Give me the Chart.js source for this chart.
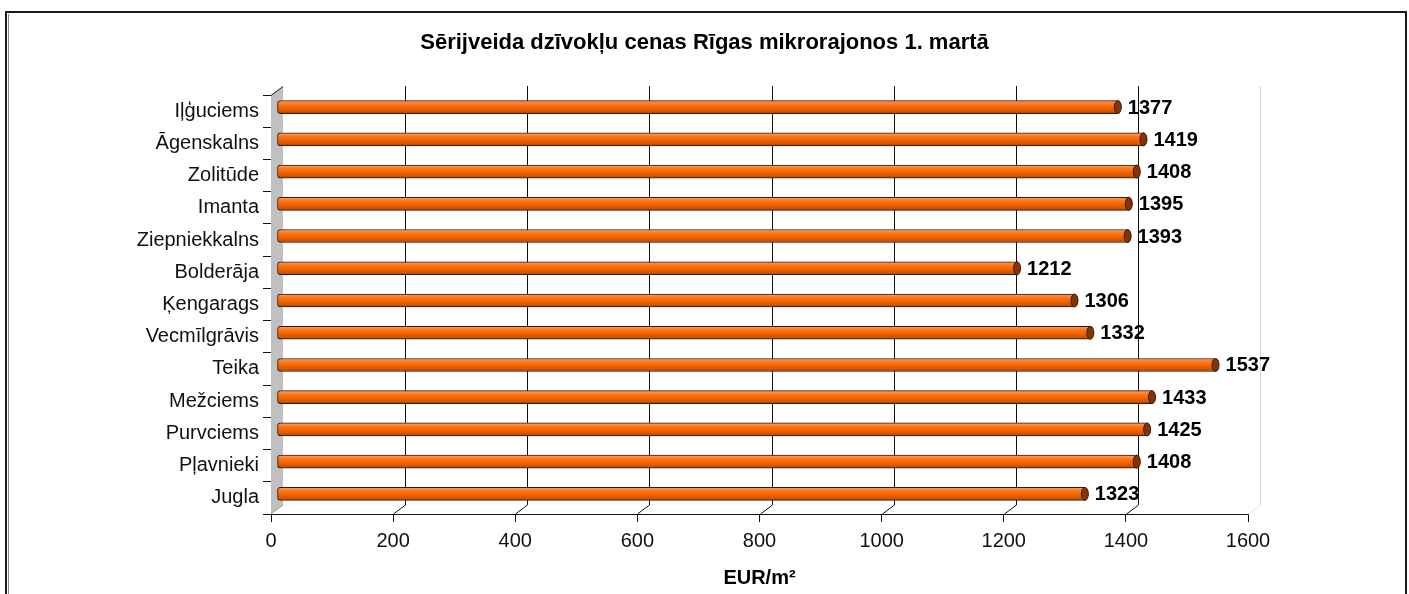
<!DOCTYPE html>
<html>
<head>
<meta charset="utf-8">
<script src="https://cdn.jsdelivr.net/npm/chart.js@4"></script>
<style>
  body { margin: 0; background: #fff; }
  #wrap { width: 1409px; height: 594px; }
</style>
</head>
<body>
<div id="wrap"><canvas id="price_chart" width="1409" height="594"></canvas></div>
<script>
// mikrorajoni (no augšas uz leju)
const districts = ['Iļģuciems', 'Āgenskalns', 'Zolitūde', 'Imanta', 'Ziepniekkalns', 'Bolderāja',
                   'Ķengarags', 'Vecmīlgrāvis', 'Teika', 'Mežciems', 'Purvciems', 'Pļavnieki', 'Jugla'];
// cena EUR/m2
const prices = [1377, 1419, 1408, 1395, 1393, 1212, 1306, 1332, 1537, 1433, 1425, 1408, 1323];
// x ass
const xMin = 0;
const xMax = 1600;
const xStep = 200;

const FONT = "'Liberation Sans', Arial, sans-serif";
const DEPTH_X = 12, DEPTH_Y = -9;   // aizmugurējā plakne
const BAR_DX = 6, BAR_DY = -4;      // stabiņu nobīde (3D)

// rāmis ap visu diagrammu
const framePlugin = {
  id: 'frame',
  beforeDraw(chart) {
    const ctx = chart.ctx;
    ctx.save();
    ctx.fillStyle = '#fff';
    ctx.fillRect(0, 0, chart.width, chart.height);
    ctx.strokeStyle = '#1a1a1a';
    ctx.lineWidth = 2;
    ctx.strokeRect(6, 12, 1400, 600);
    ctx.strokeStyle = '#888';
    ctx.lineWidth = 1;
    ctx.beginPath();
    ctx.moveTo(8.5, 14); ctx.lineTo(8.5, 594);
    ctx.stroke();
    ctx.restore();
  }
};

// 3D siena, režģis un stabiņu nobīde
const depthPlugin = {
  id: 'depth',
  beforeDatasetsDraw(chart) {
    const ctx = chart.ctx;
    const a = chart.chartArea;
    const xs = chart.scales.x;
    ctx.save();
    // pelēkā kreisā siena
    ctx.fillStyle = '#c0c0c0';
    ctx.beginPath();
    ctx.moveTo(a.left, a.top);
    ctx.lineTo(a.left + DEPTH_X, a.top + DEPTH_Y);
    ctx.lineTo(a.left + DEPTH_X, a.bottom + DEPTH_Y);
    ctx.lineTo(a.left, a.bottom);
    ctx.closePath();
    ctx.fill();
    ctx.strokeStyle = '#222';
    ctx.lineWidth = 1;
    ctx.beginPath();
    ctx.moveTo(a.left, a.top + 0.5);
    ctx.lineTo(a.left + DEPTH_X, a.top + DEPTH_Y + 0.5);
    ctx.stroke();
    // režģa līnijas aizmugurē + diagonāles uz grīdas
    for (let v = xMin + xStep; v <= xMax; v += xStep) {
      const xf = Math.round(xs.getPixelForValue(v)) + 0.5;
      const xb = xf + DEPTH_X;
      const last = v === xMax;
      ctx.strokeStyle = last ? '#d4d4d4' : '#111';
      ctx.setLineDash([]);
      ctx.beginPath();
      ctx.moveTo(xb, a.top + DEPTH_Y);
      ctx.lineTo(xb, a.bottom + DEPTH_Y);
      ctx.stroke();
      if (last) ctx.setLineDash([2, 1]);
      ctx.beginPath();
      ctx.moveTo(xf, a.bottom);
      ctx.lineTo(xb, a.bottom + DEPTH_Y);
      ctx.stroke();
    }
    ctx.setLineDash([]);
    ctx.strokeStyle = '#999';
    ctx.beginPath();
    ctx.moveTo(a.left + 1, a.bottom - 1);
    ctx.lineTo(a.left + DEPTH_X, a.bottom + DEPTH_Y);
    ctx.stroke();
    ctx.restore();

    ctx.save();
    ctx.translate(BAR_DX, BAR_DY);
  },
  afterDatasetsDraw(chart) {
    const ctx = chart.ctx;
    const meta = chart.getDatasetMeta(0);
    meta.data.forEach((bar, i) => {
      const h = bar.height;
      // cilindra gals
      ctx.beginPath();
      ctx.ellipse(bar.x, bar.y, 3.5, h / 2, 0, 0, Math.PI * 2);
      ctx.fillStyle = '#8a3300';
      ctx.fill();
      ctx.strokeStyle = '#2b1d12';
      ctx.lineWidth = 1;
      ctx.stroke();
      // vērtība
      ctx.fillStyle = '#000';
      ctx.font = 'bold 20px ' + FONT;
      ctx.textAlign = 'left';
      ctx.textBaseline = 'middle';
      ctx.fillText(String(prices[i]), bar.x + 10, bar.y + 1);
    });
    ctx.restore();
  }
};

const ctx = document.getElementById('price_chart').getContext('2d');
new Chart(ctx, {
  type: 'bar',
  data: {
    labels: districts,
    datasets: [{
      data: prices,
      barThickness: 13,
      borderWidth: 1,
      borderColor: '#2b1d12',
      borderSkipped: false,
      borderRadius: { topLeft: 3, bottomLeft: 3, topRight: 0, bottomRight: 0 },
      backgroundColor: function(c) {
        const ch = c.chart;
        if (!ch.scales || !ch.scales.y || c.dataIndex === undefined) return '#f26400';
        const y = ch.scales.y.getPixelForValue(c.dataIndex);
        if (!isFinite(y)) return '#f26400';
        const g = ch.ctx.createLinearGradient(0, y - 6.5, 0, y + 6.5);
        g.addColorStop(0, '#ffa060');
        g.addColorStop(0.25, '#ff7a20');
        g.addColorStop(0.55, '#f26400');
        g.addColorStop(0.85, '#d65400');
        g.addColorStop(1, '#9a3a00');
        return g;
      },
      clip: false
    }]
  },
  options: {
    indexAxis: 'y',
    responsive: false,
    animation: false,
    devicePixelRatio: 1,
    layout: { padding: { left: 0, right: 0, top: 0, bottom: 0 } },
    plugins: {
      legend: { display: false },
      tooltip: { enabled: false },
      title: {
        display: true,
        text: 'Sērijveida dzīvokļu cenas Rīgas mikrorajonos 1. martā',
        color: '#000',
        font: { family: FONT, size: 22, weight: 'bold' },
        padding: { top: 30, bottom: 38.6 }
      }
    },
    scales: {
      x: {
        min: xMin,
        max: xMax,
        ticks: {
          stepSize: xStep,
          color: '#111',
          padding: 7,
          font: { family: FONT, size: 20 },
          callback: (value) => String(value)
        },
        grid: { drawOnChartArea: false, drawTicks: true, tickLength: 8, color: '#111' },
        border: { display: true, color: '#111', width: 1 },
        title: {
          display: true,
          text: 'EUR/m²',
          color: '#000',
          font: { family: FONT, size: 20, weight: 'bold' },
          padding: { top: 0, bottom: 4 }
        },
        afterFit(scale) { scale.height = 80; }
      },
      y: {
        ticks: {
          color: '#111',
          padding: 4,
          font: { family: FONT, size: 20 }
        },
        grid: { drawOnChartArea: false, drawTicks: true, tickLength: 8, color: '#111', offset: true },
        border: { display: true, color: '#111', width: 1 },
        afterFit(scale) { scale.width = 271; }
      },
      // tukša vieta labajā pusē (lai virsraksts paliek centrā)
      yRight: {
        type: 'category',
        position: 'right',
        ticks: { display: false },
        grid: { display: false },
        border: { display: false },
        afterFit(scale) { scale.width = 161; }
      }
    }
  },
  plugins: [framePlugin, depthPlugin]
});
</script>
</body>
</html>
